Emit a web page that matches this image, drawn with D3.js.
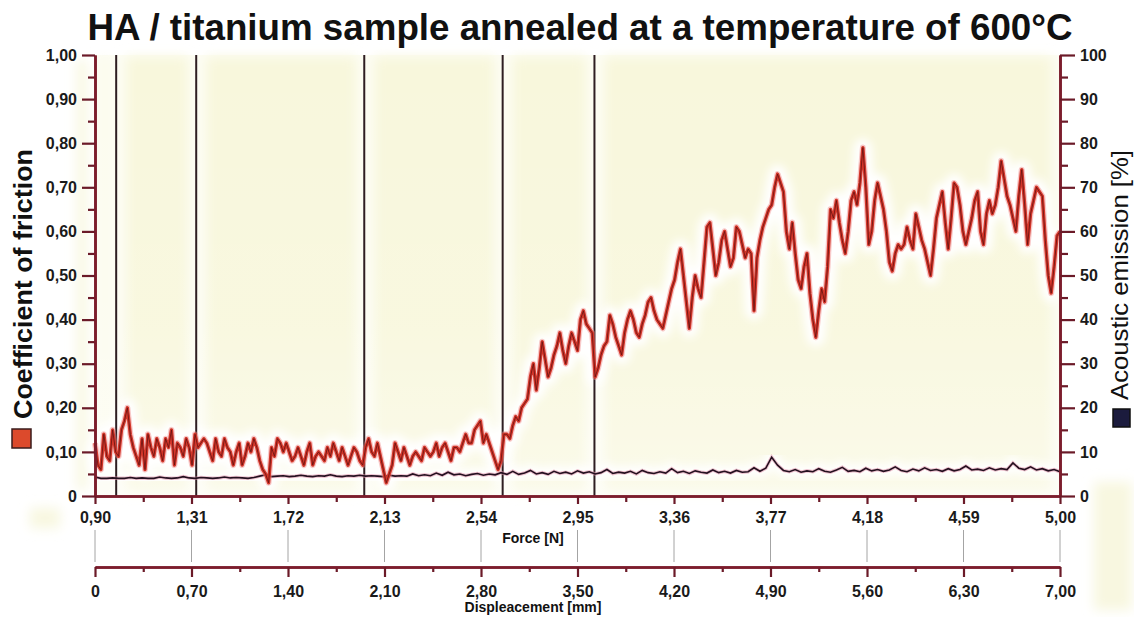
<!DOCTYPE html>
<html>
<head>
<meta charset="utf-8">
<script src="https://cdn.jsdelivr.net/npm/d3@7"></script>
<style>
  body { margin: 0; background: #fff; }
  svg { display: block; font-family: "Liberation Sans", Arial, sans-serif; }
</style>
</head>
<body>
<svg id="chart" width="1134" height="617"></svg>
<script>
// tick labels
var forceTicks = [0.90, 1.31, 1.72, 2.13, 2.54, 2.95, 3.36, 3.77, 4.18, 4.59, 5.00];
var dispTicks = [0, 0.70, 1.40, 2.10, 2.80, 3.50, 4.20, 4.90, 5.60, 6.30, 7.00];
var cofTicks = [0, 0.1, 0.2, 0.3, 0.4, 0.5, 0.6, 0.7, 0.8, 0.9, 1.0];
var aeTicks = [0, 10, 20, 30, 40, 50, 60, 70, 80, 90, 100];

// vertical marker lines (force, N)
var markerForces = [0.99, 1.33, 2.044, 2.632, 3.022];

// coefficient of friction, sampled every 0.0125 N from 0.90 N
var frictionStart = 0.90, frictionStep = 0.0125;
var friction = [
  0.12,0.07,0.06,0.14,0.09,0.08,0.15,0.10,0.09,0.15,
  0.17,0.20,0.14,0.11,0.09,0.07,0.13,0.06,0.14,0.11,
  0.09,0.13,0.11,0.08,0.13,0.11,0.15,0.07,0.12,0.11,
  0.09,0.13,0.11,0.07,0.14,0.11,0.12,0.13,0.12,0.10,
  0.08,0.13,0.10,0.09,0.13,0.11,0.10,0.07,0.10,0.12,
  0.07,0.09,0.12,0.10,0.13,0.11,0.08,0.06,0.05,0.03,
  0.11,0.09,0.13,0.12,0.10,0.12,0.10,0.08,0.09,0.11,
  0.09,0.07,0.10,0.12,0.07,0.09,0.10,0.09,0.08,0.11,
  0.09,0.12,0.10,0.08,0.11,0.09,0.07,0.09,0.11,0.10,
  0.08,0.07,0.11,0.13,0.10,0.09,0.12,0.09,0.06,0.03,
  0.05,0.07,0.12,0.10,0.08,0.11,0.09,0.07,0.09,0.10,
  0.09,0.08,0.11,0.10,0.09,0.10,0.12,0.09,0.11,0.12,
  0.10,0.08,0.11,0.11,0.10,0.12,0.14,0.12,0.12,0.15,
  0.16,0.17,0.12,0.14,0.12,0.10,0.08,0.06,0.08,0.14,
  0.14,0.13,0.16,0.18,0.17,0.20,0.21,0.22,0.27,0.30,
  0.24,0.29,0.35,0.31,0.27,0.29,0.32,0.34,0.37,0.33,
  0.30,0.34,0.37,0.35,0.33,0.40,0.42,0.39,0.38,0.37,
  0.27,0.29,0.32,0.34,0.35,0.41,0.39,0.36,0.34,0.32,
  0.37,0.40,0.42,0.40,0.37,0.36,0.39,0.41,0.44,0.45,
  0.42,0.40,0.39,0.38,0.41,0.44,0.47,0.49,0.53,0.56,
  0.50,0.44,0.38,0.45,0.50,0.47,0.45,0.53,0.61,0.62,
  0.56,0.50,0.53,0.58,0.60,0.56,0.52,0.54,0.61,0.60,
  0.57,0.54,0.56,0.55,0.42,0.54,0.58,0.61,0.63,0.65,
  0.66,0.70,0.73,0.71,0.69,0.60,0.56,0.62,0.55,0.49,
  0.47,0.52,0.55,0.46,0.40,0.36,0.42,0.47,0.44,0.52,
  0.65,0.63,0.67,0.62,0.58,0.55,0.60,0.67,0.69,0.66,
  0.71,0.79,0.70,0.57,0.60,0.67,0.71,0.68,0.65,0.60,
  0.53,0.51,0.55,0.57,0.56,0.57,0.61,0.58,0.56,0.64,
  0.61,0.58,0.56,0.53,0.50,0.56,0.63,0.66,0.69,0.62,
  0.56,0.63,0.71,0.70,0.66,0.60,0.57,0.60,0.63,0.67,
  0.69,0.60,0.57,0.64,0.67,0.64,0.66,0.70,0.76,0.72,
  0.68,0.66,0.63,0.60,0.68,0.74,0.66,0.57,0.64,0.67,
  0.70,0.69,0.68,0.58,0.50,0.46,0.52,0.59,0.60
];

// acoustic emission [%], sampled every 0.025 N from 0.90 N
var aeStart = 0.90, aeStep = 0.025;
var acoustic = [
  4.3,4.0,4.0,4.1,4.0,4.0,4.2,4.0,4.1,4.0,4.0,4.3,4.1,4.0,4.1,4.4,4.1,4.0,4.2,4.1,4.0,4.1,4.3,4.1,4.2,4.1,4.0,4.2,
  4.5,4.8,4.4,4.5,4.6,4.4,4.5,4.7,4.5,4.4,4.6,4.5,4.8,4.5,4.4,4.6,4.5,4.7,4.5,4.6,4.5,4.4,4.7,4.5,4.6,4.5,5.0,4.6,
  4.8,4.6,5.2,4.7,5.4,4.8,5.0,4.6,4.9,5.1,4.7,5.0,4.8,5.3,4.9,
  5.6,4.9,5.2,5.8,5.0,5.3,4.9,5.6,5.1,5.4,5.0,5.7,5.2,5.5,5.0,5.3,6.0,5.1,5.4,5.2,
  5.6,5.0,5.8,5.3,5.1,5.5,5.2,6.2,5.3,5.6,5.1,5.7,5.4,5.2,5.9,5.3,5.6,5.2,5.8,5.4,
  5.5,6.4,5.6,6.3,8.8,
  7.0,5.8,5.5,6.0,5.4,5.7,5.5,6.2,5.6,5.4,5.9,6.5,5.6,5.8,5.5,6.3,5.7,6.0,5.6,5.9,
  6.6,5.8,5.5,6.1,5.7,6.4,5.8,6.0,5.6,6.2,5.7,6.0,6.8,5.9,6.1,5.8,6.4,5.9,6.2,6.0,
  7.5,6.3,6.0,6.6,5.9,6.2,5.7,6.0,5.5
];

var svg = d3.select("#chart");
var plotLeft = 95, plotRight = 1060, plotTop = 55, plotBottom = 496;

var x = d3.scaleLinear().domain([0.90, 5.00]).range([plotLeft, plotRight]);
var xDisp = d3.scaleLinear().domain([0, 7]).range([plotLeft, plotRight]);
var yL = d3.scaleLinear().domain([0, 1]).range([plotBottom, plotTop]);
var yR = d3.scaleLinear().domain([0, 100]).range([plotBottom, plotTop]);

var comma = function(f){ return function(d){ return d === 0 ? "0" : d3.format(f)(d).replace(".", ","); }; };

var defs = svg.append("defs");
defs.append("filter").attr("id", "soft").attr("x", "-20%").attr("y", "-20%").attr("width", "140%").attr("height", "140%")
  .append("feGaussianBlur").attr("stdDeviation", 6);
defs.append("filter").attr("id", "halo").attr("x", "-10%").attr("y", "-10%").attr("width", "120%").attr("height", "120%")
  .append("feGaussianBlur").attr("stdDeviation", 4);
defs.append("filter").attr("id", "glow")
  .append("feGaussianBlur").attr("stdDeviation", 1.2);
var fade = defs.append("linearGradient").attr("id", "fade").attr("x1", 0).attr("y1", 0).attr("x2", 0).attr("y2", 1);
fade.append("stop").attr("offset", "0%").attr("stop-color", "#fff").attr("stop-opacity", 0);
fade.append("stop").attr("offset", "60%").attr("stop-color", "#fff").attr("stop-opacity", 0.1);
fade.append("stop").attr("offset", "100%").attr("stop-color", "#fff").attr("stop-opacity", 0.4);

// faint yellow patches outside the plot
var patch = svg.append("g").attr("filter", "url(#soft)").attr("fill", "#f8f7e0");
patch.append("rect").attr("x", 77).attr("y", 60).attr("width", 10).attr("height", 430);
patch.append("rect").attr("x", 1094).attr("y", 482).attr("width", 38).attr("height", 128);
patch.append("rect").attr("x", 30).attr("y", 508).attr("width", 30).attr("height", 20);

// plot background: yellow bands between the marker lines
svg.append("rect").attr("x", plotLeft).attr("y", plotTop).attr("width", plotRight - plotLeft).attr("height", plotBottom - plotTop).attr("fill", "#fdfdf4");
var edges = [0.90].concat(markerForces).concat([5.00]);
var bands = svg.append("g").attr("filter", "url(#soft)");
for (var i = 0; i < edges.length - 1; i++) {
  var x0 = x(edges[i]) + 10, x1 = x(edges[i + 1]) - 8;
  if (i === 0) { x0 = x(edges[i]) + 6; }
  if (x1 - x0 < 4) continue;
  bands.append("rect").attr("x", x0).attr("y", plotTop + 2).attr("width", x1 - x0).attr("height", plotBottom - plotTop - 6)
    .attr("fill", i === 0 ? "#fafae9" : "#f8f7dc");
}
svg.append("rect").attr("x", plotLeft).attr("y", plotTop).attr("width", plotRight - plotLeft).attr("height", plotBottom - plotTop)
  .attr("fill", "url(#fade)");

// line generators
var fricData = friction.map(function(v, i){ return { f: frictionStart + i * frictionStep, v: v }; });
var aeData = acoustic.map(function(v, i){ return { f: aeStart + i * aeStep, v: v }; });
var fricLine = d3.line().x(function(d){ return x(d.f); }).y(function(d){ return yL(d.v); });
var aeLine = d3.line().x(function(d){ return x(d.f); }).y(function(d){ return yR(d.v); });

// white halo around the curves
svg.append("path").datum(fricData).attr("d", fricLine).attr("fill", "none")
  .attr("stroke", "#ffffff").attr("stroke-width", 18).attr("stroke-linejoin", "round").attr("filter", "url(#halo)");
svg.append("path").datum(aeData).attr("d", aeLine).attr("fill", "none")
  .attr("stroke", "#ffffff").attr("stroke-width", 12).attr("filter", "url(#halo)");

// vertical marker lines
svg.append("g").selectAll("line").data(markerForces).enter().append("line")
  .attr("x1", function(d){ return x(d); }).attr("x2", function(d){ return x(d); })
  .attr("y1", yL(1)).attr("y2", yL(0))
  .attr("stroke", "#2e1e22").attr("stroke-width", 2);

// acoustic emission curve
svg.append("path").datum(aeData).attr("d", aeLine).attr("fill", "none")
  .attr("stroke", "#e39ab0").attr("stroke-width", 3.5).attr("opacity", 0.6);
svg.append("path").datum(aeData).attr("d", aeLine).attr("fill", "none")
  .attr("stroke", "#24101f").attr("stroke-width", 1.6);

// friction curve
svg.append("path").datum(fricData).attr("d", fricLine).attr("fill", "none")
  .attr("stroke", "#f08a8a").attr("stroke-width", 6).attr("opacity", 0.45).attr("stroke-linejoin", "round");
svg.append("path").datum(fricData).attr("d", fricLine).attr("fill", "none")
  .attr("stroke", "#d3362a").attr("stroke-width", 3.4).attr("stroke-linejoin", "round");
svg.append("path").datum(fricData).attr("d", fricLine).attr("fill", "none")
  .attr("stroke", "#5e1010").attr("stroke-width", 0.9).attr("opacity", 0.85);

// axes
function styleAxis(g) {
  g.select(".domain").attr("stroke", "#7c1d2c").attr("stroke-width", 2.6);
  g.selectAll(".tick line").attr("stroke", "#6b1a28").attr("stroke-width", 2.2);
  g.selectAll("text").attr("fill", "#1a1a1a").attr("font-size", 16).attr("font-weight", "bold")
    .attr("font-family", "'Liberation Sans', Arial, sans-serif");
}
function midpoints(arr) {
  return arr.slice(1).map(function(d, i){ return (d + arr[i]) / 2; });
}

// connector lines between force and displacement scales
svg.append("g").selectAll("line").data(forceTicks).enter().append("line")
  .attr("x1", function(d){ return x(d); }).attr("x2", function(d){ return x(d); })
  .attr("y1", 530).attr("y2", 562).attr("stroke", "#a4a4a4").attr("stroke-width", 1);

var glowG = svg.append("g");

var gLminor = svg.append("g").attr("transform", "translate(" + plotLeft + ",0)")
  .call(d3.axisLeft(yL).tickValues(midpoints(cofTicks)).tickSize(7).tickSizeOuter(0).tickFormat(""));
styleAxis(gLminor);
var gL = svg.append("g").attr("transform", "translate(" + plotLeft + ",0)")
  .call(d3.axisLeft(yL).tickValues(cofTicks).tickSize(13).tickSizeOuter(0).tickPadding(5).tickFormat(comma(".2f")));
styleAxis(gL);

var gRminor = svg.append("g").attr("transform", "translate(" + plotRight + ",0)")
  .call(d3.axisRight(yR).tickValues(midpoints(aeTicks)).tickSize(8).tickSizeOuter(0).tickFormat(""));
styleAxis(gRminor);
var gR = svg.append("g").attr("transform", "translate(" + plotRight + ",0)")
  .call(d3.axisRight(yR).tickValues(aeTicks).tickSize(15).tickSizeOuter(0).tickPadding(5).tickFormat(d3.format("d")));
styleAxis(gR);

var gFminor = svg.append("g").attr("transform", "translate(0," + plotBottom + ")")
  .call(d3.axisBottom(x).tickValues(midpoints(forceTicks)).tickSize(6).tickSizeOuter(0).tickFormat(""));
styleAxis(gFminor);
var gF = svg.append("g").attr("transform", "translate(0," + plotBottom + ")")
  .call(d3.axisBottom(x).tickValues(forceTicks).tickSize(8).tickSizeOuter(0).tickPadding(8).tickFormat(comma(".2f")));
styleAxis(gF);

var dispY = 567;
var gDminor = svg.append("g").attr("transform", "translate(0," + dispY + ")")
  .call(d3.axisBottom(xDisp).tickValues(midpoints(dispTicks)).tickSize(5).tickSizeOuter(0).tickFormat(""));
styleAxis(gDminor);
var gD = svg.append("g").attr("transform", "translate(0," + dispY + ")")
  .call(d3.axisBottom(xDisp).tickValues(dispTicks).tickSize(10).tickSizeOuter(0).tickPadding(9).tickFormat(comma(".2f")));
styleAxis(gD);

// soft pink glow behind axis lines
[[plotLeft, plotTop, plotLeft, plotBottom], [plotRight, plotTop, plotRight, plotBottom],
 [plotLeft, plotBottom, plotRight, plotBottom], [plotLeft, dispY, plotRight, dispY]].forEach(function(s){
  glowG.append("line").attr("x1", s[0]).attr("y1", s[1]).attr("x2", s[2]).attr("y2", s[3])
    .attr("stroke", "#f2a0a8").attr("stroke-width", 6).attr("filter", "url(#glow)");
});

// title
svg.append("text").attr("x", 580).attr("y", 40).attr("text-anchor", "middle")
  .attr("font-size", 36).attr("font-weight", "bold").attr("fill", "#111")
  .attr("textLength", 985).attr("lengthAdjust", "spacingAndGlyphs")
  .text("HA / titanium sample annealed at a temperature of 600°C");

// axis titles
svg.append("text").attr("transform", "translate(32,284) rotate(-90)").attr("text-anchor", "middle")
  .attr("font-size", 26).attr("font-weight", "bold").attr("fill", "#111")
  .attr("textLength", 270).attr("lengthAdjust", "spacingAndGlyphs")
  .text("Coefficient of friction");
svg.append("rect").attr("x", 12).attr("y", 429).attr("width", 19).attr("height", 19)
  .attr("fill", "#dc4a2c").attr("stroke", "#3a1d1d").attr("stroke-width", 1.5);

svg.append("text").attr("transform", "translate(1128,275) rotate(-90)").attr("text-anchor", "middle")
  .attr("font-size", 24).attr("fill", "#111")
  .attr("textLength", 250).attr("lengthAdjust", "spacingAndGlyphs")
  .text("Acoustic emission [%]");
svg.append("rect").attr("x", 1113).attr("y", 409).attr("width", 17).attr("height", 18)
  .attr("fill", "#1b1b3d").attr("stroke", "#111").attr("stroke-width", 1.5);

svg.append("text").attr("x", 533).attr("y", 543).attr("text-anchor", "middle")
  .attr("font-size", 14).attr("font-weight", "bold").attr("fill", "#111").text("Force [N]");
svg.append("text").attr("x", 533).attr("y", 612).attr("text-anchor", "middle")
  .attr("font-size", 14).attr("font-weight", "bold").attr("fill", "#111").text("Displeacement [mm]");
</script>
</body>
</html>
